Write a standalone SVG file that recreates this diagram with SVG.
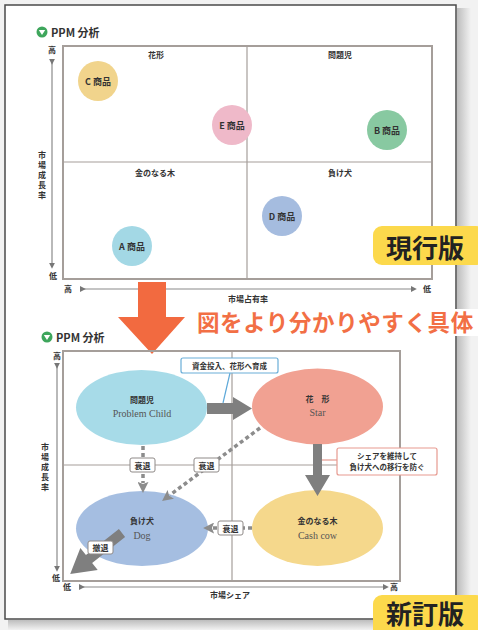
<svg xmlns="http://www.w3.org/2000/svg" width="478" height="630" viewBox="0 0 478 630">
<defs>
<style>
.jp{font-family:"Noto Sans CJK JP","Noto Sans",sans-serif;fill:#333;}
.b{font-weight:700;}
.en{font-family:"Liberation Serif",serif;fill:#555;font-size:10px;}
.frame{fill:none;stroke:#a59e9a;stroke-width:2;}
.mid{stroke:#a59e9a;stroke-width:1.2;}
.axis{stroke:#8a8a8a;stroke-width:1.2;fill:none;}
.lbl{fill:#fff;stroke:#8f8a88;stroke-width:1;}
.dash{stroke:#8c8c8c;stroke-width:3.5;stroke-dasharray:4 3;fill:none;}
.thick{fill:#7f7f7f;}
</style>
<marker id="ah" viewBox="0 0 10 10" refX="2" refY="5" markerWidth="6" markerHeight="6" orient="auto" markerUnits="userSpaceOnUse"><path d="M0,0 L10,5 L0,10 z" fill="#777"/></marker>
<marker id="dh" viewBox="0 0 10 10" refX="1" refY="5" markerWidth="11" markerHeight="11" orient="auto" markerUnits="userSpaceOnUse"><path d="M0,0 L10,5 L0,10 L2,5 z" fill="#8c8c8c"/></marker>
<linearGradient id="sh" x1="0" x2="1" y1="0" y2="0"><stop offset="0" stop-color="#bdbdbd"/><stop offset="1" stop-color="#f2f2f2"/></linearGradient>
<linearGradient id="shb" x1="0" x2="0" y1="0" y2="1"><stop offset="0" stop-color="#bdbdbd"/><stop offset="1" stop-color="#f2f2f2"/></linearGradient>
</defs>
<rect x="0" y="0" width="478" height="630" fill="#f2f2f2"/>
<rect x="457" y="8" width="14" height="614" fill="url(#sh)"/>
<rect x="8" y="620" width="463" height="10" fill="url(#shb)"/>
<rect x="5" y="5" width="451" height="614" fill="#fff" stroke="#4a4a4a" stroke-width="1.5"/>

<!-- ===== Current version ===== -->
<g id="title1">
<circle cx="42" cy="32" r="5.5" fill="#3ea65c"/>
<path d="M38.8,30 L45.2,30 L42,35 z" fill="#fff"/>
<text x="51" y="36.5" class="jp b" font-size="11">PPM 分析</text>
</g>
<g id="chart1">
<rect x="63" y="46" width="369" height="233" class="frame"/>
<line x1="247" y1="46" x2="247" y2="279" class="mid"/>
<line x1="63" y1="162" x2="432" y2="162" class="mid"/>
<text x="156" y="58" class="jp b" font-size="8" text-anchor="middle">花形</text>
<text x="340" y="58" class="jp b" font-size="8" text-anchor="middle">問題児</text>
<text x="155" y="176" class="jp b" font-size="8" text-anchor="middle">金のなる木</text>
<text x="340" y="176" class="jp b" font-size="8" text-anchor="middle">負け犬</text>
</g>
<g id="axes1">
<line x1="52" y1="60" x2="52" y2="264" class="axis" marker-start="url(#ah)" marker-end="url(#ah)"/>
<text x="52" y="53" class="jp b" font-size="8" text-anchor="middle">高</text>
<text x="53" y="279" class="jp b" font-size="8" text-anchor="middle">低</text>
<text class="jp b" font-size="8" text-anchor="middle"><tspan x="42" y="158">市</tspan><tspan x="42" y="168">場</tspan><tspan x="42" y="178">成</tspan><tspan x="42" y="188">長</tspan><tspan x="42" y="198">率</tspan></text>
<line x1="81" y1="289" x2="412" y2="289" class="axis" marker-start="url(#ah)" marker-end="url(#ah)"/>
<text x="68" y="292" class="jp b" font-size="8" text-anchor="middle">高</text>
<text x="427" y="292" class="jp b" font-size="8" text-anchor="middle">低</text>
<text x="248" y="302" class="jp b" font-size="8" text-anchor="middle">市場占有率</text>
</g>
<g id="C"><circle cx="98" cy="81" r="20" fill="#f1d48c"/><text x="98" y="84.5" class="jp b" font-size="9" text-anchor="middle">C 商品</text></g>
<g id="E"><circle cx="232" cy="125" r="20" fill="#efb9c9"/><text x="232" y="128.5" class="jp b" font-size="9" text-anchor="middle">E 商品</text></g>
<g id="B"><circle cx="387" cy="130" r="20" fill="#88c9a1"/><text x="387" y="133.5" class="jp b" font-size="9" text-anchor="middle">B 商品</text></g>
<g id="A"><circle cx="132" cy="246" r="20" fill="#a3d8e5"/><text x="132" y="249.5" class="jp b" font-size="9" text-anchor="middle">A 商品</text></g>
<g id="D"><circle cx="282" cy="216" r="20" fill="#a5bcdf"/><text x="282" y="219.5" class="jp b" font-size="9" text-anchor="middle">D 商品</text></g>
<g id="tag1">
<rect x="373" y="226" width="112" height="39" rx="9" fill="#fcd94c"/>
<text x="425" y="258" class="jp b" font-size="26" text-anchor="middle" style="fill:#222">現行版</text>
</g>

<!-- ===== Transition ===== -->
<g id="bigarrow">
<path d="M138,282 L166,282 L166,317 L185,317 L152,354 L118,317 L138,317 z" fill="#f26a40"/>
</g>
<g id="caption">
<rect x="195" y="309" width="283" height="27" fill="#fff"/>
<text x="197" y="331" class="jp b" font-size="22.5" letter-spacing="0.6" style="fill:#f26f45">図をより分かりやすく具体</text>
</g>

<!-- ===== New version ===== -->
<g id="title2">
<circle cx="47" cy="337" r="5.5" fill="#3ea65c"/>
<path d="M43.8,335 L50.2,335 L47,340 z" fill="#fff"/>
<text x="56" y="341.5" class="jp b" font-size="11">PPM 分析</text>
</g>
<g id="chart2">
<rect x="63" y="351" width="337" height="230" class="frame"/>
<line x1="232" y1="351" x2="232" y2="581" class="mid"/>
<line x1="63" y1="465" x2="400" y2="465" class="mid"/>
</g>
<g id="axes2">
<line x1="57" y1="364" x2="57" y2="567" class="axis" marker-start="url(#ah)" marker-end="url(#ah)"/>
<text x="57" y="359" class="jp b" font-size="8" text-anchor="middle">高</text>
<text x="56" y="581" class="jp b" font-size="8" text-anchor="middle">低</text>
<text class="jp b" font-size="8" text-anchor="middle"><tspan x="45" y="450">市</tspan><tspan x="45" y="460">場</tspan><tspan x="45" y="470">成</tspan><tspan x="45" y="480">長</tspan><tspan x="45" y="490">率</tspan></text>
<line x1="80" y1="587" x2="384" y2="587" class="axis" marker-start="url(#ah)" marker-end="url(#ah)"/>
<text x="67" y="590" class="jp b" font-size="8" text-anchor="middle">低</text>
<text x="394" y="590" class="jp b" font-size="8" text-anchor="middle">高</text>
<text x="230" y="598" class="jp b" font-size="8" text-anchor="middle">市場シェア</text>
</g>

<g id="problemchild">
<ellipse cx="141.5" cy="407.5" rx="65.5" ry="37.5" fill="#a7dbe8"/>
<text x="142" y="403" class="jp b" font-size="8" text-anchor="middle">問題児</text>
<text x="142" y="417" class="en" text-anchor="middle">Problem Child</text>
</g>
<g id="star">
<ellipse cx="317.5" cy="406.5" rx="65.5" ry="38" fill="#f1a192"/>
<text x="317.5" y="402" class="jp b" font-size="8" text-anchor="middle">花　形</text>
<text x="317.5" y="416" class="en" text-anchor="middle">Star</text>
</g>
<g id="dog">
<ellipse cx="142" cy="528.5" rx="66" ry="37.5" fill="#a5bee1"/>
<text x="142" y="524" class="jp b" font-size="8" text-anchor="middle">負け犬</text>
<text x="142" y="539" class="en" text-anchor="middle">Dog</text>
</g>
<g id="cashcow">
<ellipse cx="317.5" cy="528" rx="65.5" ry="38" fill="#f5d88c"/>
<text x="317.5" y="524" class="jp b" font-size="8" text-anchor="middle">金のなる木</text>
<text x="317.5" y="539" class="en" text-anchor="middle">Cash cow</text>
</g>

<g id="connectors">
<path class="thick" d="M207,403 L233,403 L233,397 L252,408.5 L233,420 L233,414 L207,414 z"/>
<path class="thick" d="M313,444 L322,444 L322,475 L330,475 L317.5,496 L305,475 L313,475 z"/>
<line x1="143" y1="446" x2="143" y2="483" class="dash" marker-end="url(#dh)"/>
<line x1="260" y1="428" x2="170" y2="495" class="dash" marker-end="url(#dh)"/>
<line x1="252" y1="528" x2="213" y2="528" class="dash" marker-end="url(#dh)"/>
<path class="thick" transform="translate(122,533) rotate(141.7)" d="M0,-5 L42,-5 L42,-14 L66,0 L42,14 L42,5 L0,5 z"/>
<line x1="230" y1="373" x2="223" y2="403" stroke="#5ea9d9" stroke-width="1.2"/>
<line x1="322" y1="460" x2="337" y2="460" stroke="#e79a90" stroke-width="1.2"/>
</g>

<g id="lbl-decline1"><rect x="130" y="458" width="25" height="14" rx="2" class="lbl"/><text x="142.5" y="468.5" class="jp b" font-size="8" text-anchor="middle">衰退</text></g>
<g id="lbl-decline2"><rect x="194" y="458" width="25" height="14" rx="2" class="lbl"/><text x="206.5" y="468.5" class="jp b" font-size="8" text-anchor="middle">衰退</text></g>
<g id="lbl-decline3"><rect x="218" y="521" width="25" height="14" rx="2" class="lbl"/><text x="230.5" y="531.5" class="jp b" font-size="8" text-anchor="middle">衰退</text></g>
<g id="lbl-withdraw"><rect x="88" y="541" width="25" height="13" rx="2" class="lbl"/><text x="100.5" y="551" class="jp b" font-size="8" text-anchor="middle">撤退</text></g>
<g id="note-invest">
<rect x="181" y="358" width="97" height="15" rx="2" fill="#fff" stroke="#6aaed8" stroke-width="1.2"/>
<text x="229.5" y="368.5" class="jp b" font-size="7.5" text-anchor="middle">資金投入、花形へ育成</text>
</g>
<g id="note-keep">
<rect x="337" y="448" width="100" height="27" rx="2" fill="#fff" stroke="#e79a90" stroke-width="1.2"/>
<text x="387" y="459" class="jp b" font-size="7.5" text-anchor="middle">シェアを維持して</text>
<text x="387" y="470" class="jp b" font-size="7.5" text-anchor="middle">負け犬への移行を防ぐ</text>
</g>
<g id="tag2">
<rect x="373" y="595" width="112" height="45" rx="9" fill="#fcd94c"/>
<text x="425" y="624" class="jp b" font-size="26" text-anchor="middle" style="fill:#222">新訂版</text>
</g>
</svg>
